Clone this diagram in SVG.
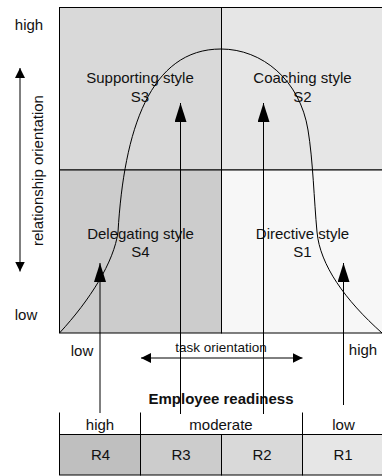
<svg xmlns="http://www.w3.org/2000/svg" width="382" height="476" viewBox="0 0 382 476">
  <style>
    text { font-family: "Liberation Sans", Arial, sans-serif; font-size: 15px; fill: #111; text-anchor: middle; }
    .small { font-size: 13.5px; }
    .bold { font-weight: bold; }
    .cell { stroke: #000; stroke-width: 1; }
    .line { stroke: #000; stroke-width: 1; fill: none; }
  </style>
  <defs>
    <marker id="big" viewBox="0 0 19 12" refX="19" refY="6" markerWidth="19" markerHeight="12" markerUnits="userSpaceOnUse" orient="auto-start-reverse">
      <path d="M0,0 L19,6 L0,12 z" fill="#000"/>
    </marker>
    <marker id="small" viewBox="0 0 10 10" refX="10" refY="5" markerWidth="10" markerHeight="10" markerUnits="userSpaceOnUse" orient="auto-start-reverse">
      <path d="M0,0 L10,5 L0,10 z" fill="#000"/>
    </marker>
  </defs>
  <rect width="382" height="476" fill="#fff"/>

  <g id="quad-s3">
    <rect class="cell" x="59.5" y="7.5" width="162" height="162.5" fill="#d9d9d9"/>
    <text x="140" y="83">Supporting style</text>
    <text x="140" y="102">S3</text>
  </g>
  <g id="quad-s2">
    <rect class="cell" x="221.5" y="7.5" width="162" height="162.5" fill="#e6e6e6"/>
    <text x="302.5" y="83">Coaching style</text>
    <text x="302.5" y="102">S2</text>
  </g>
  <g id="quad-s4">
    <rect class="cell" x="59.5" y="170" width="162" height="163" fill="#cccccc"/>
    <text x="140.5" y="238.5">Delegating style</text>
    <text x="140.5" y="257">S4</text>
  </g>
  <g id="quad-s1">
    <rect class="cell" x="221.5" y="170" width="162" height="163" fill="#f7f7f7"/>
    <text x="302.5" y="238.5">Directive style</text>
    <text x="302.5" y="257">S1</text>
  </g>

  <g id="curve">
    <path class="line" d="M59.5,333 C90,300 114,262 118,232 C124,130 150,49 221,49 C262,49 300,80 308,130 C313,160 314,200 317,232 C320,265 345,300 382,333"/>
  </g>

  <g id="axis-labels">
    <text x="29" y="29.5">high</text>
    <text x="26" y="320">low</text>
    <text x="82" y="356">low</text>
    <text x="363" y="355">high</text>
    <text class="small" x="221" y="352">task orientation</text>
    <text x="0" y="0" transform="translate(43,170.5) rotate(-90)">relationship orientation</text>
    <text class="bold" x="221" y="404">Employee readiness</text>
  </g>

  <g id="table">
    <g id="cell-r4">
      <rect class="cell" x="59.5" y="434.5" width="81" height="40.5" fill="#bfbfbf"/>
      <text x="100.5" y="460">R4</text>
    </g>
    <g id="cell-r3">
      <rect class="cell" x="140.5" y="434.5" width="81" height="40.5" fill="#cccccc"/>
      <text x="181" y="460">R3</text>
    </g>
    <g id="cell-r2">
      <rect class="cell" x="221.5" y="434.5" width="81" height="40.5" fill="#d9d9d9"/>
      <text x="262" y="460">R2</text>
    </g>
    <g id="cell-r1">
      <rect class="cell" x="302.5" y="434.5" width="81" height="40.5" fill="#e6e6e6"/>
      <text x="343" y="460">R1</text>
    </g>
    <g id="readiness-high">
      <line class="line" x1="59.5" y1="412.5" x2="59.5" y2="434.5"/>
      <text x="100" y="429.5">high</text>
    </g>
    <g id="readiness-moderate">
      <line class="line" x1="140.5" y1="412.5" x2="140.5" y2="434.5"/>
      <text x="221" y="429.5">moderate</text>
    </g>
    <g id="readiness-low">
      <line class="line" x1="302.5" y1="412.5" x2="302.5" y2="434.5"/>
      <text x="343.5" y="429.5">low</text>
    </g>
  </g>

  <g id="connectors">
    <line class="line" x1="20" y1="271.5" x2="20" y2="68" marker-start="url(#small)" marker-end="url(#small)"/>
    <line class="line" x1="141" y1="358" x2="302.5" y2="358" marker-start="url(#small)" marker-end="url(#small)"/>
    <line class="line" x1="100" y1="413" x2="100" y2="263" marker-end="url(#big)"/>
    <line class="line" x1="180.5" y1="414" x2="180.5" y2="103" marker-end="url(#big)"/>
    <line class="line" x1="263.5" y1="414" x2="263.5" y2="103" marker-end="url(#big)"/>
    <line class="line" x1="343.5" y1="405" x2="343.5" y2="263" marker-end="url(#big)"/>
  </g>
</svg>
